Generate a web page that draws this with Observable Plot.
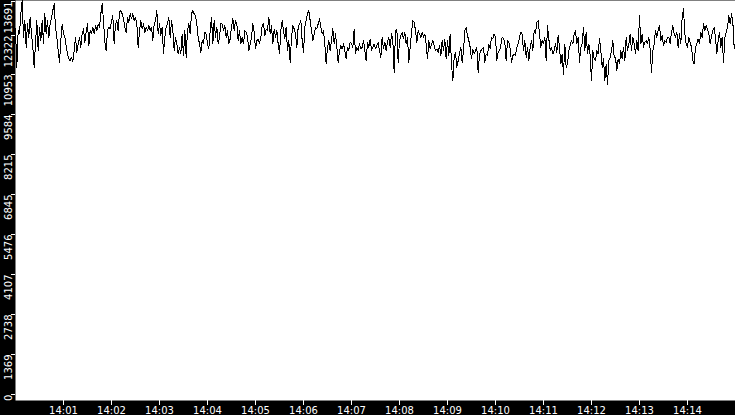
<!DOCTYPE html>
<html><head><meta charset="utf-8">
<script src="https://cdn.jsdelivr.net/npm/d3@7"></script>
<script src="https://cdn.jsdelivr.net/npm/@observablehq/plot@0.6"></script>
<style>html,body{margin:0;padding:0;background:#fff;overflow:hidden}</style>
</head><body><div id="chart"></div>
<script>
const startTime = "2000-01-01T14:00:00Z";
const endTime = "2000-01-01T14:15:00Z";

// 14:00:00 – 14:02:30
const seg1 = [12719,11403,12662,12547,13233,13691,12433,13005,12090,12890,
12433,13119,12547,12090,11403,12204,13005,11975,12776,12318,
13005,12204,13233,12547,13005,12433,12890,13119,13348,13577,
12776,12433,11975,11575,12318,12890,12547,12433,12147,11861,
11689,11632,11746,11609,11975,12433,11918,12204,12433,12090,
12547,12719,12261,12604,12890,12147,12662,12547,12776,12547,
12833,12662,12890,12776,13233,13577,13005,12261,11975,12662,
12776,12719,13005,13176,12204,12890,13005,12662,13291,13348,
13233,13062,12776,12604,13119,12947,13233,13062,13233,13005];
// 14:02:30 – 14:05:00
const seg2 = [13119,12890,12090,12662,13005,12719,12890,12604,12776,12662,
12833,12662,12776,12318,12890,13005,13348,12547,12890,12490,
12776,11861,12433,12776,12890,13119,12433,13005,12662,11975,
12433,12204,11861,12090,11861,12547,11803,12662,11746,12662,
12890,12547,13233,13348,13233,13176,12890,12433,12204,11918,
12318,12204,12604,12547,12204,12032,12662,13119,12204,13005,
12433,12776,12204,12433,12890,12890,12662,12833,12433,12662,
12204,12375,12776,13062,12662,13005,12890,12318,12662,12204,
12433,12204,12662,12604,12433,11975,12204,12433,12890,12604];
// 14:05:00 – 14:07:30
const seg3 = [12032,12318,12375,12204,12433,12833,12890,12490,12719,12662,
13119,12547,12833,12204,12719,12433,12662,12204,11861,12662,
13005,12662,12375,12776,11975,12318,11575,12433,12833,12719,
12547,12090,12776,12890,13005,12318,11918,12776,13005,13233,
13348,13005,12662,12318,12547,12776,12719,12890,13062,12776,
12547,12662,12204,11518,12090,12318,11975,12318,12719,12204,
12547,12090,11575,11975,12147,12032,12204,11975,11689,12090,
11975,12261,12204,12090,12719,11861,12090,11975,12204,12032,
12090,12318,11975,11632,12261,12090,12375,11975,12090,12204];
// 14:07:30 – 14:10:00
const seg4 = [12032,12147,12261,11975,11746,12433,12032,12261,11975,12261,
12433,12090,12547,12318,11231,12662,12719,11575,12318,12490,
12604,12375,12604,12204,12433,11575,12090,12604,13005,12947,
12662,12261,12662,12547,12433,12604,12433,12547,12204,11689,
12318,12032,12204,12318,12147,11975,12032,11918,12147,11803,
12318,11975,12375,11689,12318,11803,12547,11518,10945,11746,
11918,11403,11632,11861,12090,11575,11975,12662,12776,12490,
12318,12090,11689,12032,11861,11975,12090,11231,11861,11975,
12032,12090,11575,11861,11803,12204,12032,12433,12375,12547];
// 14:10:00 – 14:12:30
const seg5 = [12433,11632,11918,11975,12147,12433,12375,12261,11632,12318,
12261,12032,11575,11803,11861,11803,12090,12204,12433,12604,
12547,11975,12318,11746,12090,11632,12090,12318,11975,12662,
12547,12947,13005,12547,12090,12318,12204,12433,11632,12833,
12375,11975,12090,11861,11975,12204,11918,12490,12090,11518,
11861,11174,12204,11403,11518,11975,12147,12318,12204,12547,
12662,12204,12433,11575,12090,12204,12776,11975,12604,11861,
12204,11803,10945,11975,11689,11632,11975,11861,12375,11975,
11403,11689,10945,11518,10831,11632,11746,11975,12318,11746];
// 14:12:30 – 14:15:00
const seg6 = [11746,11289,11689,11518,11975,11689,12090,11632,12433,11975,
12204,12547,11975,12433,12204,11861,12318,11975,13176,12204,
12547,12090,12261,12318,12204,12433,12032,11231,11975,12204,
12662,12433,12662,12833,12318,12490,12147,12318,12261,12433,
12433,12204,12604,12833,12547,12433,12604,12090,12547,12204,
13119,13405,12547,12204,12090,12433,12261,12090,11632,11518,
12090,12204,12375,12204,12604,12433,12890,12662,12833,12719,
12547,12204,12490,12662,12776,12433,11861,12318,12604,12090,
12433,11575,12433,12604,12776,13176,12890,13233,12947,12090,11975];

const xTickLabels = ["14:01","14:02","14:03","14:04","14:05","14:06","14:07","14:08","14:09","14:10","14:11","14:12","14:13","14:14"];
const yTickLabels = ["0","1369","2738","4107","5476","6845","8215","9584","10953","12322","13691"];
const yMax = 13691;

const values = [...seg1, ...seg2, ...seg3, ...seg4, ...seg5, ...seg6];
const t0 = new Date(startTime), t1 = new Date(endTime);
const step = (t1 - t0) / (values.length - 1);
const data = values.map((v, i) => ({time: new Date(+t0 + i * step), value: v}));
const xTicks = xTickLabels.map(s => new Date(`2000-01-01T${s}:00Z`));
const yTicks = yTickLabels.map((s, i) => yMax * i / 10);
const yFmt = d => yTickLabels[yTicks.indexOf(d)];
const yAxisOpts = {tickSize: 4, tickPadding: 0, tickRotate: -90, textAnchor: "end", label: null, tickFormat: yFmt};

const chart = Plot.plot({
  width: 735, height: 415,
  marginLeft: 15, marginRight: 0, marginTop: 0, marginBottom: 15,
  style: {background: "black", color: "white", fontFamily: "DejaVu Sans", fontSize: "10px"},
  x: {type: "utc", domain: [t0, t1]},
  y: {domain: [0, yMax]},
  marks: [
    Plot.frame({fill: "white", stroke: "none"}),
    Plot.line(data, {x: "time", y: "value", stroke: "black", strokeWidth: 1, shapeRendering: "crispEdges"}),
    Plot.axisX(xTicks, {tickSize: 5, tickPadding: 1, label: null,
      tickFormat: d => xTickLabels[xTicks.findIndex(t => +t === +d)]}),
    Plot.axisY(yTicks.slice(0, 9), {...yAxisOpts, dy: -6}),
    Plot.axisY(yTicks.slice(9, 10), {...yAxisOpts, dy: -5}),
    Plot.axisY(yTicks.slice(10), {...yAxisOpts, dy: 1})
  ]
});
document.getElementById("chart").appendChild(chart);
</script>
</body></html>
